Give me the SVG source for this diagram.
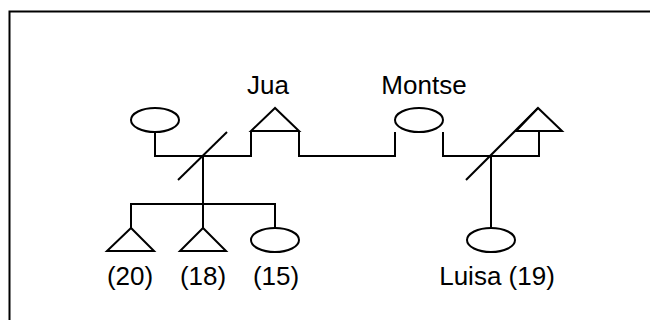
<svg xmlns="http://www.w3.org/2000/svg" width="650" height="320" viewBox="0 0 650 320">
<style>
.s{fill:none;stroke:#000;stroke-width:2}
.f{fill:#fff;stroke:#000;stroke-width:2}
text{font-family:"Liberation Sans",Arial,sans-serif;font-size:26px;fill:#000;text-anchor:middle}
</style>
<rect x="0" y="0" width="650" height="320" fill="#fff"/>
<rect x="9.5" y="11.5" width="700" height="400" fill="none" stroke="#000" stroke-width="2"/>
<g id="connectors" class="s">
<polyline points="155,132 155,156 251,156 251,131"/>
<polyline points="299,131 299,156 395,156 395,132"/>
<polyline points="443,132 443,156 539,156 539,131"/>
<line x1="178" y1="180" x2="227" y2="132"/>
<line x1="466" y1="180" x2="538" y2="108"/>
<line x1="203" y1="156" x2="203" y2="228"/>
<polyline points="131,228 131,204 275,204 275,228"/>
<line x1="491" y1="156" x2="491" y2="228"/>
</g>
<g id="n_left_spouse"><ellipse class="f" cx="155" cy="120" rx="24" ry="12"/></g>
<g id="n_jua"><polygon class="f" points="275,108 251,131 299,131"/><text x="268" y="94">Jua</text></g>
<g id="n_montse"><ellipse class="f" cx="419" cy="120" rx="24" ry="12"/><text x="424" y="94">Montse</text></g>
<g id="n_right_spouse"><polygon class="s" points="538,108 516,131 562,131"/></g>
<g id="n_20"><polygon class="f" points="131,228 107,251 154,251"/><text x="130" y="285">(20)</text></g>
<g id="n_18"><polygon class="f" points="203,228 180,251 226,251"/><text x="203" y="285">(18)</text></g>
<g id="n_15"><ellipse class="f" cx="275" cy="240" rx="24" ry="12"/><text x="276" y="285">(15)</text></g>
<g id="n_luisa"><ellipse class="f" cx="491" cy="240" rx="24" ry="12"/><text x="497" y="285">Luisa (19)</text></g>
</svg>
